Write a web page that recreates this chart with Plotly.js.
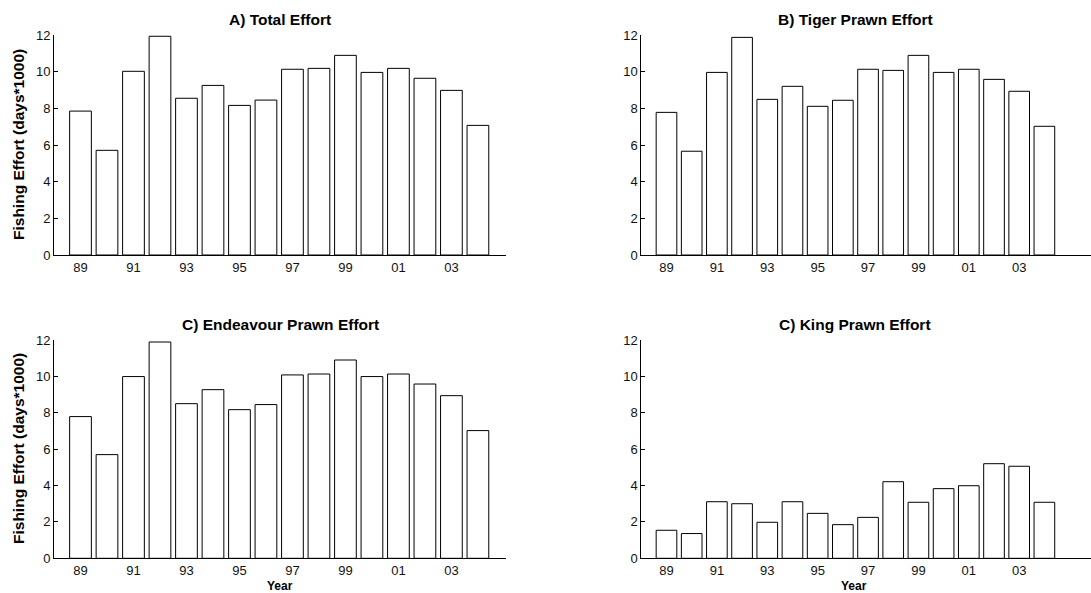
<!DOCTYPE html>
<html>
<head>
<meta charset="utf-8">
<script src="https://cdn.plot.ly/plotly-3.0.1.min.js"></script>
<style>html,body{margin:0;padding:0;background:#fff;}#chart{width:1091px;height:593px;}</style>
</head>
<body>
<div id="chart"></div>
<script>
// Years (89 .. 04 encoded as 89 .. 104)
const years = [89,90,91,92,93,94,95,96,97,98,99,100,101,102,103,104];
const tickVals = [89,91,93,95,97,99,101,103];
const tickText = ["89","91","93","95","97","99","01","03"];

// Fishing effort (days*1000)
const totalEffort      = [7.85,5.71,10.02,11.93,8.55,9.25,8.16,8.45,10.13,10.18,10.89,9.96,10.18,9.64,8.98,7.07];
const tigerEffort      = [7.78,5.66,9.96,11.87,8.49,9.20,8.11,8.44,10.13,10.07,10.89,9.96,10.13,9.58,8.93,7.02];
const endeavourEffort  = [7.79,5.70,9.99,11.89,8.50,9.27,8.17,8.45,10.08,10.13,10.90,9.99,10.13,9.58,8.94,7.02];
const kingEffort       = [1.54,1.36,3.11,3.00,1.98,3.11,2.47,1.85,2.25,4.21,3.08,3.83,3.99,5.20,5.06,3.08];

const panelTitles = ["A) Total Effort","B) Tiger Prawn Effort","C) Endeavour Prawn Effort","C) King Prawn Effort"];
const yTitle = "Fishing Effort (days*1000)";
const xTitle = "Year";

const W = 1091, H = 593;
const px = v => v / W;
const py = v => (H - v) / H;

const FONT = "Liberation Sans, Arial, sans-serif";
const series = [totalEffort, tigerEffort, endeavourEffort, kingEffort];
const axisIds = ["", "2", "3", "4"];

const traces = series.map((vals, i) => ({
  type: "bar",
  x: years,
  y: vals,
  width: 0.82,
  xaxis: "x" + axisIds[i],
  yaxis: "y" + axisIds[i],
  marker: {color: "#ffffff", line: {color: "#000000", width: 1}},
  hoverinfo: "x+y",
  showlegend: false
}));

const leftDom = [px(54), px(506)];
const rightDom = [px(641.3), 1];
const topDom = [py(255), py(35)];
const botDom = [py(558.3), py(340)];

function xax(dom, range, anchor) {
  return {
    domain: dom, range: range, anchor: anchor,
    tickmode: "array", tickvals: tickVals, ticktext: tickText,
    ticks: "", showgrid: false, zeroline: false,
    showline: true, linecolor: "#000", linewidth: 1,
    tickfont: {family: FONT, size: 13, color: "#111"},
    fixedrange: true
  };
}
function yax(dom, anchor) {
  return {
    domain: dom, range: [0, 12], anchor: anchor,
    tickmode: "linear", tick0: 0, dtick: 2,
    ticks: "inside", ticklen: 4, tickcolor: "#000", tickwidth: 1,
    showgrid: false, zeroline: false,
    showline: true, linecolor: "#000", linewidth: 1,
    tickfont: {family: FONT, size: 13, color: "#111"},
    fixedrange: true
  };
}

const ann = [
  {text: "<b>" + panelTitles[0] + "</b>", x: px(280), y: py(20)},
  {text: "<b>" + panelTitles[1] + "</b>", x: px(855), y: py(20)},
  {text: "<b>" + panelTitles[2] + "</b>", x: px(280), y: py(324)},
  {text: "<b>" + panelTitles[3] + "</b>", x: px(855), y: py(324)}
].map(a => Object.assign(a, {xref: "paper", yref: "paper", showarrow: false,
  xanchor: "center", yanchor: "middle", font: {family: FONT, size: 15.5, color: "#000"}}));

[py(145), py(449)].forEach(yy => {
  ann.push({text: "<b>" + yTitle + "</b>", x: px(18), y: yy, xref: "paper", yref: "paper",
    showarrow: false, textangle: -90, xanchor: "center", yanchor: "middle",
    font: {family: FONT, size: 15.5, color: "#000"}});
});
[px(280), px(854)].forEach(xx => {
  ann.push({text: "<b>" + xTitle + "</b>", x: xx, y: py(586), xref: "paper", yref: "paper",
    showarrow: false, xanchor: "center", yanchor: "middle",
    font: {family: FONT, size: 12, color: "#000"}});
});

const layout = {
  width: W, height: H,
  margin: {l: 0, r: 0, t: 0, b: 0, pad: 0},
  paper_bgcolor: "#fff", plot_bgcolor: "#fff",
  bargap: 0,
  showlegend: false,
  xaxis:  xax(leftDom,  [88, 105.06], "y"),
  yaxis:  yax(topDom, "x"),
  xaxis2: xax(rightDom, [88, 105.85], "y2"),
  yaxis2: yax(topDom, "x2"),
  xaxis3: xax(leftDom,  [88, 105.06], "y3"),
  yaxis3: yax(botDom, "x3"),
  xaxis4: xax(rightDom, [88, 105.85], "y4"),
  yaxis4: yax(botDom, "x4"),
  annotations: ann
};

Plotly.newPlot("chart", traces, layout, {displayModeBar: false, staticPlot: true});
</script>
</body>
</html>
